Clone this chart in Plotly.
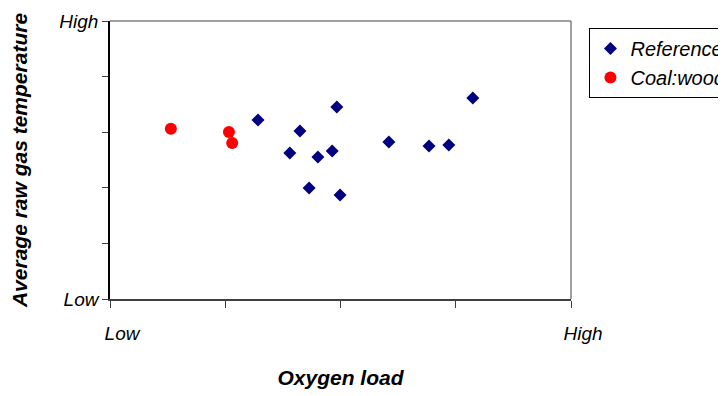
import plotly.graph_objects as go

# Data (relative scale 0..1, Low..High)
ref_x = [0.321, 0.492, 0.412, 0.390, 0.451, 0.482, 0.432, 0.499, 0.605, 0.692, 0.735, 0.787]
ref_y = [0.644, 0.691, 0.604, 0.525, 0.511, 0.532, 0.399, 0.374, 0.565, 0.550, 0.554, 0.723]
cw_x = [0.132, 0.258, 0.265]
cw_y = [0.612, 0.601, 0.561]

x_tickvals = [0, 0.25, 0.5, 0.75, 1]
x_ticktext = ["Low", "", "", "", "High"]
y_tickvals = [0, 0.2, 0.4, 0.6, 0.8, 1]
y_ticktext = ["Low", "", "", "", "", "High"]

FONT = "Liberation Sans, Arial, sans-serif"

fig = go.Figure()
fig.add_trace(go.Scatter(
    x=ref_x, y=ref_y, mode="markers", name="<i>Reference</i>",
    marker=dict(symbol="diamond", size=10, color="#000080"),
))
fig.add_trace(go.Scatter(
    x=cw_x, y=cw_y, mode="markers", name="<i>Coal:wood</i>",
    marker=dict(symbol="circle", size=12, color="#FF0000"),
))

fig.update_layout(
    width=718, height=388,
    margin=dict(l=102, r=155, t=13, b=97, autoexpand=False),
    paper_bgcolor="white", plot_bgcolor="white",
    font=dict(family=FONT, size=19, color="black"),
    showlegend=True,
    legend=dict(
        x=1.04, xanchor="left", y=0.975, yanchor="top",
        bordercolor="black", borderwidth=1, bgcolor="white",
        font=dict(size=20), tracegroupgap=0, itemwidth=30,
    ),
    xaxis=dict(
        range=[0, 1], tickvals=x_tickvals, ticktext=x_ticktext,
        showgrid=False, zeroline=False, showline=True, linecolor="#404040", linewidth=1.5,
        ticks="outside", ticklen=7, tickcolor="#404040",
        tickfont=dict(size=19, style="italic"),
        ticklabelshift=12, ticklabelstandoff=9,
        title=dict(text="<b><i>Oxygen load</i></b>", standoff=28, font=dict(size=21)),
        automargin=False,
    ),
    yaxis=dict(
        range=[0, 1], tickvals=y_tickvals, ticktext=y_ticktext,
        showgrid=False, zeroline=False, showline=True, linecolor="black", linewidth=1.5,
        ticks="outside", ticklen=6, tickcolor="#404040",
        tickfont=dict(size=19, style="italic"),
        title=dict(text="<b><i>Average raw gas temperature</i></b>", standoff=33, font=dict(size=21)),
        automargin=False,
    ),
)

# top and right border of plot area in gray
fig.add_shape(type="line", xref="x domain", yref="y domain", x0=0, x1=1, y0=1, y1=1,
              line=dict(color="#808080", width=1.5))
fig.add_shape(type="line", xref="x domain", yref="y domain", x0=1, x1=1, y0=0, y1=1,
              line=dict(color="#808080", width=1.5))

fig.write_html("out.html")
